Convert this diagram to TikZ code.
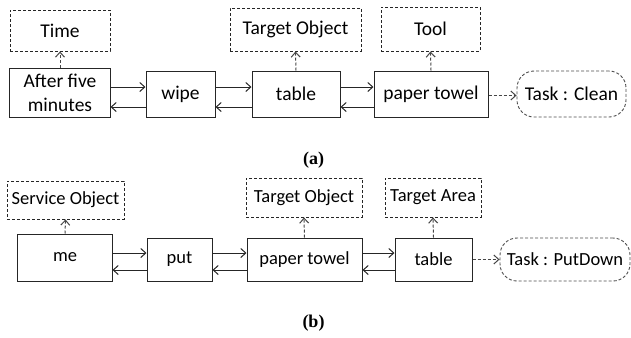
\documentclass[tikz,border=0pt]{standalone}
\usepackage{fontspec}
\setmainfont{Carlito}
\newfontfamily\capfont{Liberation Serif}
\usetikzlibrary{arrows.meta}
\tikzset{
  box/.style={draw=black!85, line width=1bp, inner sep=0pt, align=center},
  attr/.style={draw=black!85, line width=0.9bp, dash pattern=on 3bp off 2bp, inner sep=0pt},
  taskbox/.style={draw=gray!60!black, line width=0.9bp, dash pattern=on 3bp off 2bp, rounded corners=17bp, inner sep=0pt},
  arr/.style={-{Straight Barb[length=5bp,width=9bp]}, line width=1bp, draw=black!85},
  darr/.style={-{Straight Barb[length=5bp,width=9bp]}, line width=1bp, draw=gray!55!black, dash pattern=on 3bp off 2bp},
  fa/.style={font=\fontsize{19.5bp}{24bp}\selectfont},
  fb/.style={font=\fontsize{18.5bp}{22bp}\selectfont},
  captxt/.style={font=\capfont\bfseries\fontsize{18bp}{20bp}\selectfont, inner sep=0pt}
}
\begin{document}
\begin{tikzpicture}[x=1bp,y=-1bp]
\useasboundingbox (0,0) rectangle (631,337);
% ---------- panel (a)
\node[attr,fa,minimum width=100bp,minimum height=41bp] (time) at (60,30.5) {Time};
\node[box,fa,minimum width=100bp,minimum height=49bp] (after) at (60,92.5) {After five\\minutes};
\node[box,fa,minimum width=69bp,minimum height=46bp] (wipe) at (180.5,94) {wipe};
\node[box,fa,minimum width=88bp,minimum height=46bp] (table) at (296,94) {table};
\node[attr,fa,minimum width=131bp,minimum height=43bp] (tobj) at (295.5,29.5) {Target Object};
\node[attr,fa,minimum width=99bp,minimum height=44bp] (tool) at (430.5,29) {Tool};
\node[box,fa,minimum width=114bp,minimum height=46bp] (paper) at (431,94) {paper towel};
\node[taskbox,fa,minimum width=109bp,minimum height=46bp] (task) at (571.5,94) {Task : Clean};
\node[captxt] (capa) at (313.5,160) {(a)};
\coordinate (ua) at (0,87);
\coordinate (la) at (0,107);
\coordinate (ta) at (0,95.5);
\draw[arr] (after.east |- ua) -- (wipe.west |- ua);
\draw[arr] (wipe.west |- la) -- (after.east |- la);
\draw[arr] (wipe.east |- ua) -- (table.west |- ua);
\draw[arr] (table.west |- la) -- (wipe.east |- la);
\draw[arr] (table.east |- ua) -- (paper.west |- ua);
\draw[arr] (paper.west |- la) -- (table.east |- la);
\draw[darr] (paper.east |- ta) -- (task.west |- ta);
\draw[darr] (after.north) -- (time.south);
\draw[darr] (table.north) -- (tobj.south);
\draw[darr] (paper.north) -- (tool.south);
% ---------- panel (b)
\node[attr,fb,minimum width=117bp,minimum height=38bp] (svc) at (65.5,200) {Service Object};
\node[box,fb,minimum width=94bp,minimum height=47bp] (me) at (65,257.5) {me};
\node[box,fb,minimum width=65bp,minimum height=43bp] (put) at (179.5,259.5) {put};
\node[box,fb,minimum width=115bp,minimum height=43bp] (paperb) at (304.5,259.5) {paper towel};
\node[attr,fb,minimum width=116bp,minimum height=39bp] (tobjb) at (304,197.5) {Target Object};
\node[attr,fb,minimum width=96bp,minimum height=39bp] (tarea) at (433,197.5) {Target Area};
\node[box,fb,minimum width=77bp,minimum height=43bp] (tableb) at (433.5,259.5) {table};
\node[taskbox,fb,minimum width=130bp,minimum height=43bp] (taskb) at (565,259.5) {Task : PutDown};
\node[captxt] (capb) at (313.5,323) {(b)};
\coordinate (ub) at (0,253);
\coordinate (lb) at (0,270);
\coordinate (tb) at (0,259.5);
\draw[arr] (me.east |- ub) -- (put.west |- ub);
\draw[arr] (put.west |- lb) -- (me.east |- lb);
\draw[arr] (put.east |- ub) -- (paperb.west |- ub);
\draw[arr] (paperb.west |- lb) -- (put.east |- lb);
\draw[arr] (paperb.east |- ub) -- (tableb.west |- ub);
\draw[arr] (tableb.west |- lb) -- (paperb.east |- lb);
\draw[darr] (tableb.east |- tb) -- (taskb.west |- tb);
\draw[darr] (me.north) -- (svc.south);
\draw[darr] (paperb.north) -- (tobjb.south);
\draw[darr] (tableb.north) -- (tarea.south);
\end{tikzpicture}
\end{document}
